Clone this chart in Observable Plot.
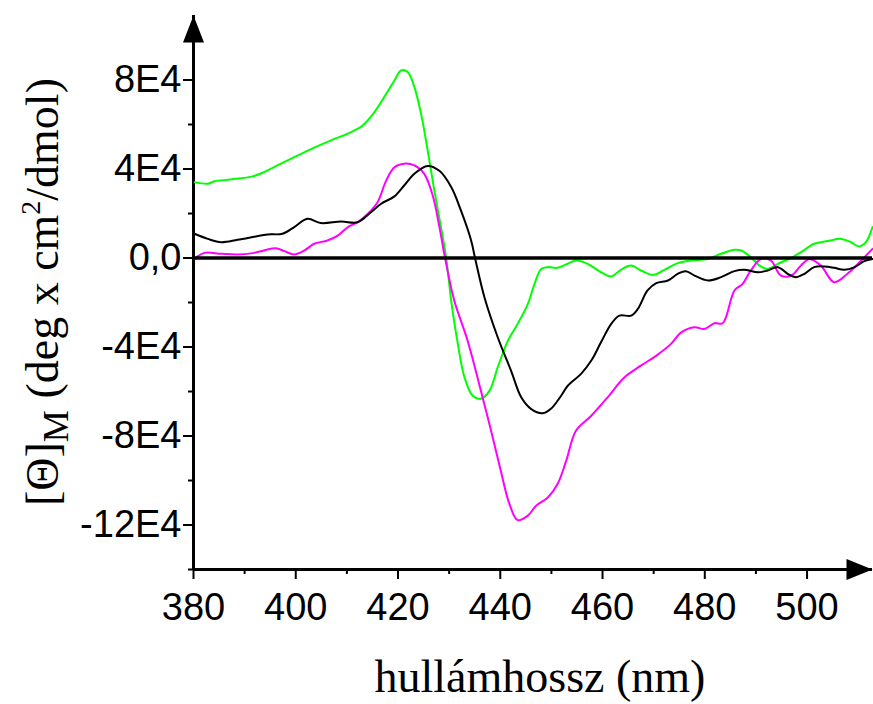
<!DOCTYPE html>
<html><head><meta charset="utf-8">
<script src="https://cdn.jsdelivr.net/npm/d3@7"></script>
<script src="https://cdn.jsdelivr.net/npm/@observablehq/plot@0.6"></script>
<style>body{margin:0;background:#fff}</style>
</head><body><div id="chart"></div>
<script>
// wavelength (nm) and molar ellipticity in units of 1E4 deg cm2/dmol
const greenNm = [380.2,382.8,384.1,387.3,391.6,393.8,397.1,400.4,403.6,406.9,410.2,411.5,413.1,415.4,417.3,419.3,420.6,421.9,423.2,424.5,425.8,427.1,428.4,429.4,430.4,431.7,433,434.6,436.2,437.9,439.5,441.5,443.4,445.4,446.7,448,449.3,451.2,453.2,454.8,457.1,459.7,461.7,463.6,465.6,467.5,469.8,472.1,474.7,477.3,480.6,483.2,485.8,487.1,489,490.7,492.3,494.3,496.9,498.8,501.4,504,506.7,508.6,510.2,511.5,512.8];
const greenTheta = [3.41,3.34,3.45,3.53,3.67,3.86,4.24,4.61,4.96,5.29,5.59,5.74,5.96,6.56,7.23,7.98,8.43,8.36,7.68,6.49,4.84,3.04,1.39,0.04,-1.91,-3.86,-5.36,-6.19,-6.33,-5.96,-4.91,-3.71,-2.96,-2.06,-1.16,-0.49,-0.41,-0.44,-0.26,-0.11,-0.26,-0.64,-0.83,-0.53,-0.34,-0.56,-0.76,-0.53,-0.23,-0.11,-0.04,0.19,0.37,0.34,0.04,-0.34,-0.49,-0.26,0.01,0.26,0.64,0.76,0.86,0.71,0.52,0.71,1.39];

const blackNm = [380.2,382.8,385.4,388.6,391.6,394.5,397.4,399.7,402.3,404.9,408.9,412.1,414.7,416.7,419.3,421.2,423.2,425.8,428.1,430.4,432.3,434.3,435.1,436.9,439.5,442.1,444.1,446,448.3,449.9,451.9,453.2,455.8,457.8,459.7,461.7,463.3,465.6,466.9,468.8,470.5,472.8,474.7,476.3,478,480.6,483.2,485.8,487.7,490.4,492.3,494.3,496.2,497.8,499.5,501.4,503.4,505.3,507.3,509.3,511.2,512.8];
const blackTheta = [1.09,0.86,0.71,0.82,0.94,1.06,1.09,1.39,1.76,1.57,1.64,1.61,2.06,2.44,2.77,3.26,3.79,4.14,3.92,3.19,2.14,0.79,-0.04,-1.76,-3.56,-5.06,-6.26,-6.78,-6.98,-6.78,-6.19,-5.74,-5.21,-4.61,-3.79,-2.96,-2.59,-2.59,-2.29,-1.46,-1.13,-1.01,-0.71,-0.59,-0.79,-1.01,-0.86,-0.59,-0.53,-0.64,-0.56,-0.41,-0.71,-0.86,-0.71,-0.41,-0.38,-0.44,-0.53,-0.41,-0.14,-0.04];

const magentaNm = [380.2,382.1,385.4,388.6,391.6,393.8,396.1,397.8,399.7,401.7,403.6,406.2,408.2,410.2,412.1,414.1,416,417.7,419.3,421.2,423.2,425.1,426.8,428.1,429.2,431,433.6,436.2,438.2,440.1,441.8,443.4,445.4,447,449.3,451.2,452.9,454.8,457.8,461,464.3,467.5,470.8,473.4,475.4,478,479.9,481.9,483.5,485.8,487.4,489,491,492.9,494.9,496.9,498.8,500.5,502.7,505.3,507.9,510.6,512.8];
const magentaTheta = [-0.04,0.23,0.19,0.16,0.22,0.34,0.44,0.31,0.16,0.34,0.64,0.79,1.01,1.39,1.61,1.99,2.51,3.49,4.08,4.24,4.16,3.79,2.8,1.39,0,-1.91,-3.71,-5.96,-7.76,-9.56,-11.06,-11.78,-11.58,-11.13,-10.76,-10.16,-9.11,-7.76,-7.09,-6.26,-5.36,-4.84,-4.34,-3.86,-3.34,-3.11,-3.19,-2.93,-2.93,-1.46,-1.16,-0.56,-0.04,-0.11,-0.79,-0.79,-0.34,-0.04,-0.34,-1.09,-0.71,-0.11,0.41];

const xMajorTicks = [380,400,420,440,460,480,500];
const xMinorTicks = [390,410,430,450,470,490,510];
const yMajorTicks = [-12,-8,-4,0,4,8];
const yMinorTicks = [-14,-10,-6,-2,2,6];
const yTickLabels = ["-12E4","-8E4","-4E4","0,0","4E4","8E4"];
const xLabel = "hullámhossz (nm)";
const yLabelParts = ["[Θ]", "M", " (deg x cm", "2", "/dmol)"];

const xDomain = [380, 512.8];
const yDomain = [-14, 10.9];

const rows = (nm, th) => nm.map((x, i) => ({x, y: th[i]}));

const upArrow = {draw(ctx) { ctx.moveTo(0, 0); ctx.lineTo(10.5, 27); ctx.lineTo(-10.5, 27); ctx.closePath(); }};
const rightArrow = {draw(ctx) { ctx.moveTo(0, 0); ctx.lineTo(-26, -10.5); ctx.lineTo(-26, 10.5); ctx.closePath(); }};

const plot = Plot.plot({
  width: 873, height: 704,
  marginLeft: 193, marginRight: 1, marginTop: 15, marginBottom: 135,
  style: {fontFamily: "'Liberation Sans', Arial, sans-serif", color: "#000", background: "#fff", overflow: "visible"},
  x: {domain: xDomain},
  y: {domain: yDomain},
  marks: [
    Plot.axisX({ticks: xMinorTicks, tickSize: 5, tickFormat: () => "", strokeWidth: 2, label: null}),
    Plot.axisX({ticks: xMajorTicks, tickSize: 10, tickPadding: 14, fontSize: 38, strokeWidth: 2, label: null}),
    Plot.axisY({ticks: yMinorTicks, tickSize: 5, tickFormat: () => "", strokeWidth: 2, label: null}),
    Plot.axisY({ticks: yMajorTicks, tickSize: 10, tickPadding: 2, fontSize: 38, strokeWidth: 2, label: null,
      tickFormat: d => yTickLabels[yMajorTicks.indexOf(d)]}),
    Plot.ruleX([xDomain[0]], {strokeWidth: 3}),
    Plot.ruleY([yDomain[0]], {strokeWidth: 3}),
    Plot.line(rows(greenNm, greenTheta), {x: "x", y: "y", stroke: "#00ff00", strokeWidth: 2, curve: "catmull-rom"}),
    Plot.line(rows(magentaNm, magentaTheta), {x: "x", y: "y", stroke: "#ff00ff", strokeWidth: 2, curve: "catmull-rom"}),
    Plot.line(rows(blackNm, blackTheta), {x: "x", y: "y", stroke: "#000", strokeWidth: 2, curve: "catmull-rom"}),
    Plot.ruleY([0], {strokeWidth: 3.5}),
    Plot.dot([{x: xDomain[0], y: yDomain[1]}], {x: "x", y: "y", symbol: upArrow, fill: "#000", stroke: "none"}),
    Plot.dot([{x: xDomain[1], y: yDomain[0]}], {x: "x", y: "y", symbol: rightArrow, fill: "#000", stroke: "none"})
  ]
});

const svg = d3.select(plot);
const yl = svg.append("text")
  .attr("transform", "translate(58,292) rotate(-90)")
  .attr("text-anchor", "middle")
  .attr("font-family", "'Liberation Serif', 'Times New Roman', serif")
  .attr("font-size", 46)
  .attr("fill", "#000");
yl.append("tspan").text(yLabelParts[0]);
yl.append("tspan").attr("font-size", 36).attr("dy", 10).text(yLabelParts[1]);
yl.append("tspan").attr("dy", -10).text(yLabelParts[2]);
yl.append("tspan").attr("font-size", 28).attr("dy", -18).text(yLabelParts[3]);
yl.append("tspan").attr("dy", 18).text(yLabelParts[4]);

svg.append("text")
  .attr("x", 540).attr("y", 692)
  .attr("text-anchor", "middle")
  .attr("font-family", "'Liberation Serif', 'Times New Roman', serif")
  .attr("font-size", 46)
  .attr("fill", "#000")
  .text(xLabel);

document.getElementById("chart").appendChild(plot);
</script>
</body></html>
